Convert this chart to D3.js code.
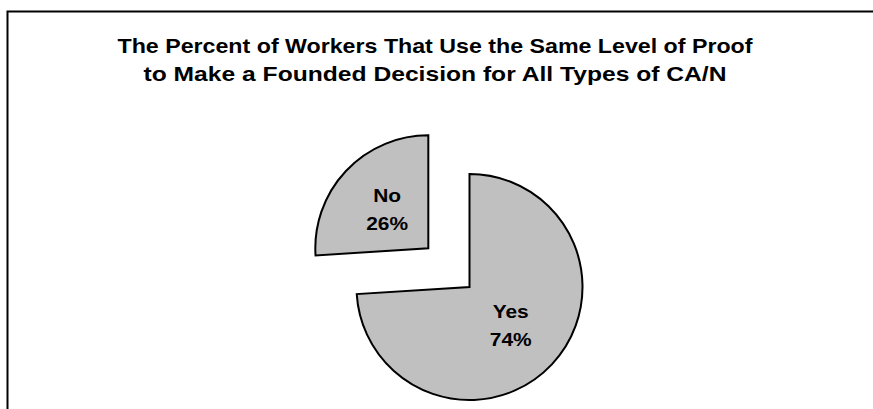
<!DOCTYPE html>
<html><head><meta charset="utf-8">
<script src="https://cdn.jsdelivr.net/npm/d3@7"></script>
<style>html,body{margin:0;padding:0;background:#fff;}svg{display:block;}</style>
</head><body>
<script>
const titleLines = ["The Percent of Workers That Use the Same Level of Proof", "to Make a Founded Decision for All Types of CA/N"];
const categories = ["Yes", "No"];
const values = [74, 26];
const exploded = [false, true];

const W = 873, H = 409;
const svg = d3.select("body").append("svg").attr("width", W).attr("height", H);
const FONT = "Liberation Sans, Arial, sans-serif";
const XS = 1.1;
const titleWidths = [635, 583];

svg.append("path").attr("d", `M7.5,${H} V11.5 H${W}`).attr("fill", "none").attr("stroke", "#000").attr("stroke-width", 2);

svg.append("g").attr("transform", `translate(435,0)`)
  .selectAll("text.title").data(titleLines).enter().append("text")
  .attr("class", "title")
  .attr("x", 0).attr("y", (d, i) => 52.5 + i * 28.5)
  .attr("text-anchor", "middle")
  .attr("font-family", FONT)
  .attr("font-weight", "bold").attr("font-size", 21)
  .attr("textLength", (d, i) => titleWidths[i])
  .attr("lengthAdjust", "spacingAndGlyphs")
  .text(d => d);

const cx = 469.5, cy = 287, r = 113;
const data = categories.map((c, i) => ({ cat: c, val: values[i], ex: exploded[i] }));
const pie = d3.pie().value(d => d.val).sort(null).startAngle(0);
const arcs = pie(data);
const arc = d3.arc().innerRadius(0).outerRadius(r);
const explodeDist = 0.5 * r;
const labelR = 0.5 * r;

const g = svg.append("g").attr("transform", `translate(${cx},${cy})`);
const sl = g.selectAll("g.slice").data(arcs).enter().append("g")
  .attr("class", "slice")
  .attr("transform", d => {
    if (!d.data.ex) return null;
    const a = (d.startAngle + d.endAngle) / 2;
    return `translate(${Math.sin(a) * explodeDist},${-Math.cos(a) * explodeDist})`;
  });
sl.append("path").attr("d", arc).attr("fill", "#c0c0c0").attr("stroke", "#000").attr("stroke-width", 2).attr("stroke-linejoin", "miter");

const lab = sl.append("text")
  .attr("text-anchor", "middle")
  .attr("font-family", FONT)
  .attr("font-weight", "bold").attr("font-size", 19)
  .attr("transform", d => {
    const a = (d.startAngle + d.endAngle) / 2;
    return `translate(${Math.sin(a) * labelR},${-Math.cos(a) * labelR}) scale(${XS},1)`;
  });
lab.append("tspan").attr("x", 0).attr("y", -7.5).text(d => d.data.cat);
lab.append("tspan").attr("x", 0).attr("y", 20.5).text(d => d.data.val + "%");
</script>
</body></html>
